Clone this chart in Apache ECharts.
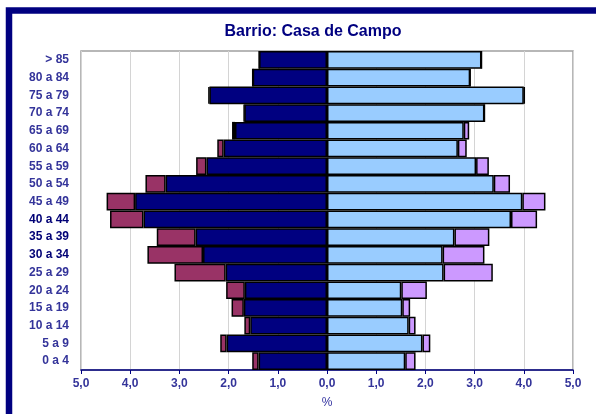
<!DOCTYPE html>
<html>
<head>
<meta charset="utf-8">
<script src="https://cdn.jsdelivr.net/npm/echarts@6/dist/echarts.min.js"></script>
<style>
html,body{margin:0;padding:0;background:#fff;}
#c{width:596px;height:414px;}
</style>
</head>
<body>
<div id="c"></div>
<script>
// Categories from bottom to top
var categories = ['0 a 4','5 a 9','10 a 14','15 a 19','20 a 24','25 a 29','30 a 34','35 a 39','40 a 44','45 a 49','50 a 54','55 a 59','60 a 64','65 a 69','70 a 74','75 a 79','80 a 84','> 85'];
var boldCategories = ['30 a 34','35 a 39','40 a 44'];
// Men (drawn to the left), % values
var hombresEspanoles = [1.39,2.04,1.56,1.69,1.67,2.06,2.52,2.67,3.73,3.90,3.28,2.45,2.10,1.87,1.68,2.39,1.51,1.38];
var hombresExtranjeros = [0.13,0.13,0.12,0.25,0.38,1.04,1.13,0.79,0.68,0.58,0.41,0.21,0.13,0.06,0.01,0.02,0.00,0.00];
// Women (drawn to the right), % values
var mujeresEspanolas = [1.59,1.94,1.66,1.53,1.51,2.37,2.35,2.59,3.74,3.97,3.39,3.03,2.66,2.78,3.20,4.00,2.91,3.14];
var mujeresExtranjeras = [0.21,0.16,0.14,0.16,0.52,1.00,0.85,0.71,0.53,0.47,0.33,0.26,0.18,0.11,0.00,0.02,0.00,0.00];
var xTicks = [-5,-4,-3,-2,-1,0,1,2,3,4,5];

var chart = echarts.init(document.getElementById('c'), null, {renderer:'canvas'});
var navy = '#000080';
var fontFam = 'Liberation Sans, Arial, sans-serif';

function neg(a){ return a.map(function(v){ return -v; }); }

var catData = categories.map(function(c){
  if (boldCategories.indexOf(c) >= 0) {
    return {value:c, textStyle:{color:'#000075', fontWeight:'bold'}};
  }
  return c;
});

var barBase = {
  type:'bar',
  barCategoryGap:'0%',
  barGap:'-100%',
  emphasis:{disabled:true},
  animation:false
};

chart.setOption({
  animation:false,
  backgroundColor:'#fff',
  grid:{left:81, right:23, top:51, bottom:41, show:true, borderColor:'#a0a0a0', borderWidth:1.5, containLabel:false},
  graphic:[
    {type:'rect', shape:{x:9, y:10.5, width:600, height:420}, style:{fill:null, stroke:navy, lineWidth:6.5}, silent:true, z:100},
    {type:'text', x:313, y:31.5, style:{text:'Barrio: Casa de Campo', fill:navy, font:'bold 16px ' + fontFam, textAlign:'center', textVerticalAlign:'middle'}, z:100}
  ],
  xAxis:{
    type:'value', min:-5, max:5, interval:1,
    name:'%', nameLocation:'middle', nameGap:27,
    nameTextStyle:{color:'#3333a0', fontSize:12, fontFamily:fontFam},
    axisLine:{show:true, lineStyle:{color:navy, width:1.5}},
    axisTick:{show:true, length:4, lineStyle:{color:navy, width:1}},
    axisLabel:{color:'#34349a', fontSize:12, fontWeight:'bold', fontFamily:fontFam, margin:8,
      formatter:function(v){ return Math.abs(v).toFixed(1).replace('.', ','); }},
    splitLine:{show:true, lineStyle:{color:'#d4d4d4', width:1}}
  },
  yAxis:{
    type:'category', data:catData,
    axisLine:{show:false}, axisTick:{show:false},
    axisLabel:{color:'#34349a', fontSize:12, fontWeight:'bold', fontFamily:fontFam, margin:12}
  },
  series:[
    Object.assign({}, barBase, {name:'Hombres españoles', stack:'h', data:neg(hombresEspanoles), itemStyle:{color:navy, borderColor:'#000', borderWidth:1.5}}),
    Object.assign({}, barBase, {name:'Hombres extranjeros', stack:'h', data:neg(hombresExtranjeros), itemStyle:{color:'#993366', borderColor:'#000', borderWidth:1.5}}),
    Object.assign({}, barBase, {name:'Mujeres españolas', stack:'m', data:mujeresEspanolas, itemStyle:{color:'#99CCFF', borderColor:'#000', borderWidth:1.5}}),
    Object.assign({}, barBase, {name:'Mujeres extranjeras', stack:'m', data:mujeresExtranjeras, itemStyle:{color:'#CC99FF', borderColor:'#000', borderWidth:1.5}})
  ]
});
</script>
</body>
</html>
